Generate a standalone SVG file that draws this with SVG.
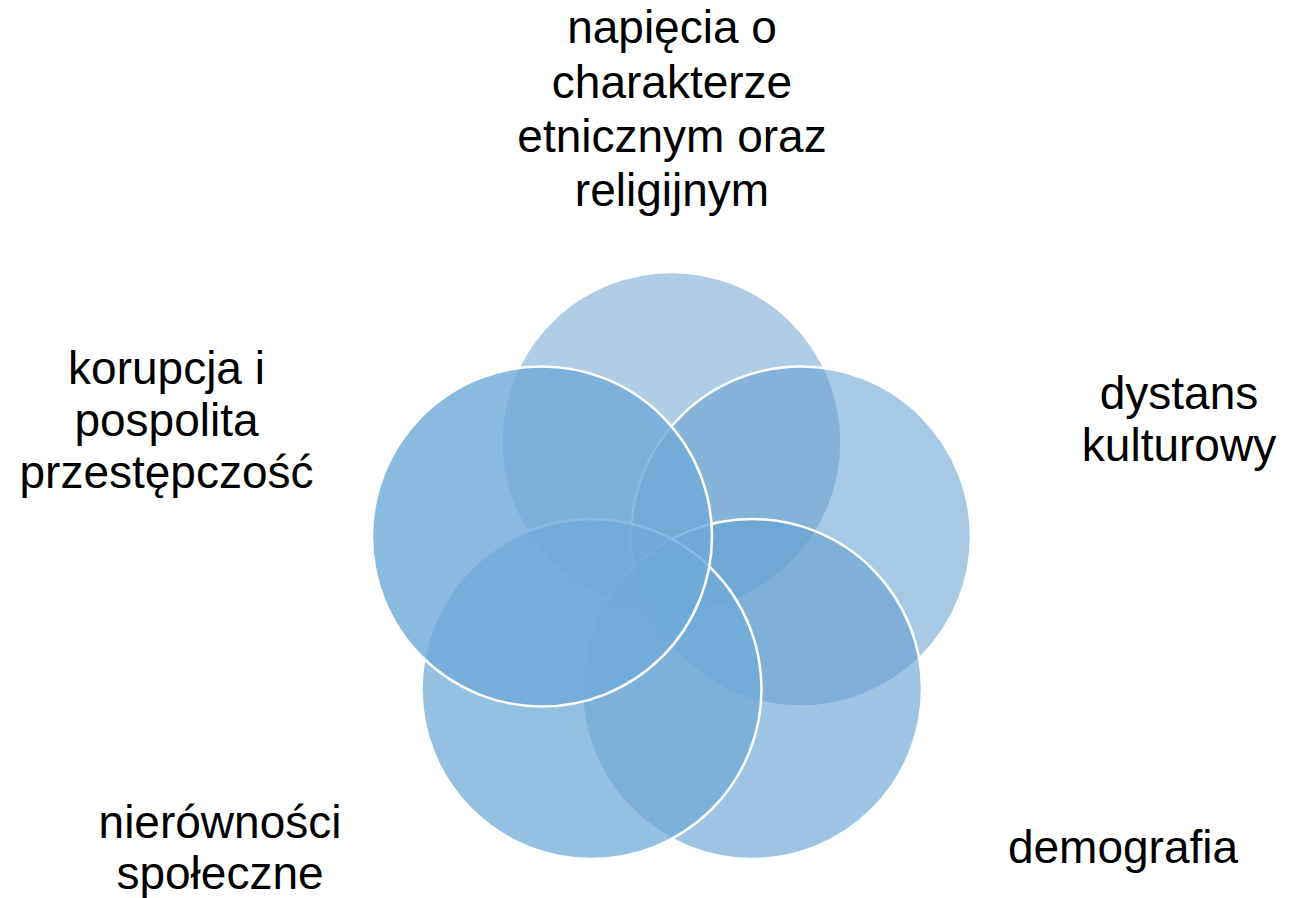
<svg xmlns="http://www.w3.org/2000/svg" width="1289" height="898" viewBox="0 0 1289 898">
<style>
.c{stroke:#ffffff;stroke-width:2.5}
.t{font-family:"Liberation Sans",Arial,sans-serif;font-size:46px;fill:#000000;text-anchor:middle}
</style>
<rect width="1289" height="898" fill="#ffffff"/>
<g id="connectors"></g>
<g id="node-top"><circle class="c" cx="671.5" cy="442" r="170" fill="#619bcb" fill-opacity="0.5"/></g>
<g id="node-right"><circle class="c" cx="801" cy="536.5" r="170" fill="#619dce" fill-opacity="0.55"/></g>
<g id="node-bottom-right"><circle class="c" cx="752" cy="689" r="170" fill="#65a1d3" fill-opacity="0.63"/></g>
<g id="node-bottom-left"><circle class="c" cx="591.5" cy="689" r="170" fill="#6eaad8" fill-opacity="0.74"/></g>
<g id="node-left"><circle class="c" cx="542" cy="536.5" r="170" fill="#6fabd9" fill-opacity="0.82"/></g>
<g id="label-top"><text class="t"><tspan x="672" y="43">napięcia o</tspan><tspan x="672" y="97.5">charakterze</tspan><tspan x="672" y="152">etnicznym oraz</tspan><tspan x="672" y="206">religijnym</tspan></text></g>
<g id="label-left"><text class="t"><tspan x="166.5" y="384">korupcja i</tspan><tspan x="166.5" y="436">pospolita</tspan><tspan x="166.5" y="488">przestępczość</tspan></text></g>
<g id="label-right"><text class="t"><tspan x="1179" y="409">dystans</tspan><tspan x="1179" y="461">kulturowy</tspan></text></g>
<g id="label-bottom-left"><text class="t"><tspan x="220" y="838">nierówności</tspan><tspan x="220" y="889">społeczne</tspan></text></g>
<g id="label-bottom-right"><text class="t"><tspan x="1123" y="863">demografia</tspan></text></g>
</svg>
